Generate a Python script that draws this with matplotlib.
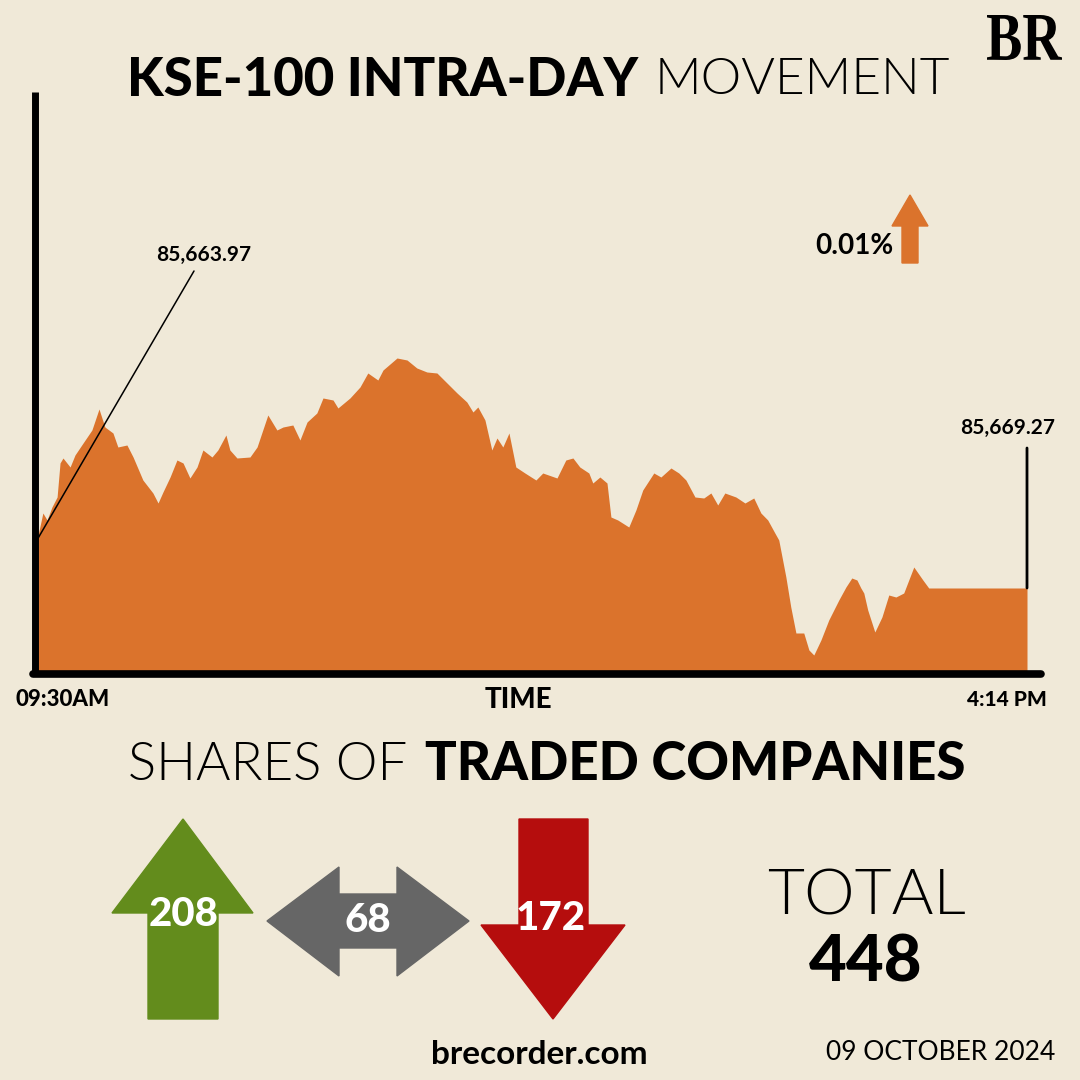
import matplotlib
matplotlib.use("Agg")
import matplotlib.pyplot as plt
from matplotlib.patches import Polygon, PathPatch
from matplotlib.lines import Line2D
from matplotlib.textpath import TextPath
from matplotlib.font_manager import FontProperties
from matplotlib.transforms import Affine2D

# ---------------- data ----------------
# minutes after 09:30 and height of the index trace above the chart floor (arbitrary units)
minutes = [0, 2.4, 4.1, 6.1, 8.2, 9.4, 10.6, 13.5, 15.5, 18.8, 22.4, 25.3, 27.7, 31.0, 33.0,
           36.7, 39.2, 43.2, 47.3, 49.4, 51.4, 54.3, 57.1, 59.6, 62.4, 65.3, 67.7, 71.4, 73.8,
           77.1, 78.7, 81.6, 86.9, 89.8, 94.2, 97.9, 100.4, 104.4, 107.3, 110.2, 114.2, 116.7,
           120.8, 122.8, 127.7, 131.8, 135.0, 139.1, 141.2, 146.9, 151.0, 155.0, 159.1, 163.2,
           167.3, 171.4, 175.4, 177.9, 179.9, 182.8, 185.6, 187.7, 190.1, 192.6, 195.4, 199.1,
           203.6, 206.4, 212.2, 215.8, 218.7, 221.5, 225.2, 226.8, 229.7, 232.6, 234.2, 237.0,
           241.5, 244.4, 247.2, 251.7, 254.6, 258.7, 261.9, 264.8, 268.5, 272.1, 275.0, 277.8,
           280.7, 285.2, 288.9, 292.5, 295.4, 298.2, 301.1, 302.7, 305.6, 307.6, 309.7, 312.9,
           315.0, 317.0, 319.9, 323.1, 327.2, 330.1, 332.5, 334.6, 336.2, 337.4, 339.0, 341.9,
           344.8, 347.6, 350.5, 353.7, 357.8, 361.5, 363.9, 404.0]
height = [132, 159, 152, 165, 175, 209, 214, 205, 217, 229, 242, 263, 245, 239, 225,
          227, 215, 192, 179, 169, 180, 195, 212, 209, 194, 205, 222, 215, 222,
          237, 222, 214, 215, 225, 257, 242, 245, 247, 232, 250, 259, 274,
          272, 264, 274, 285, 299, 292, 302, 314, 312, 304, 300, 299,
          289, 279, 270, 260, 265, 252, 222, 234, 225, 239, 205, 199,
          192, 199, 194, 212, 214, 205, 199, 189, 195, 189, 155, 152,
          145, 162, 182, 199, 195, 204, 199, 192, 175, 174, 179, 167,
          179, 175, 169, 174, 159, 152, 139, 132, 95, 65, 39, 39,
          22, 17, 32, 52, 72, 85, 94, 92, 84, 79, 62, 40,
          55, 77, 75, 79, 105, 92, 84, 84]

open_label = "85,663.97"
close_label = "85,669.27"
change_label = "0.01%"
time_labels = ["09:30AM", "4:14 PM"]
advanced, unchanged, declined = 208, 68, 172
total = advanced + unchanged + declined
date_label = "09 OCTOBER 2024"

# ---------------- style ----------------
BG = "#F0E9D8"
ORANGE = "#DB732C"
GREEN = "#638C1C"
GREY = "#666666"
RED = "#B50D0D"
SANS = "Lato"
THIN = 300

W = 1080
def fx(x): return x / W
def fy(y): return 1 - y / W

fig = plt.figure(figsize=(10.8, 10.8), dpi=100, facecolor=BG)

# chart axes: floor at y=672px, top at 92px, left at 37px, trace ends at 1027px
x0, x1, xend, ytop, yfloor = 37, 1043, 1027, 92, 672
span = minutes[-1] * (x1 - x0) / (xend - x0)
ax = fig.add_axes([fx(x0), fy(yfloor), fx(x1 - x0), (yfloor - ytop) / W])
ax.set_facecolor("none")
ax.fill_between(minutes, height, 0, color=ORANGE, lw=0)
ax.set_xlim(0, span)
ax.set_ylim(0, yfloor - ytop)
ax.axis("off")

# axis lines
fig.add_artist(Line2D([fx(35), fx(35)], [fy(92), fy(675)], color="black", lw=5,
                      solid_capstyle="butt", transform=fig.transFigure))
fig.add_artist(Line2D([fx(33), fx(1041)], [fy(674), fy(674)], color="black", lw=5.5,
                      solid_capstyle="round", transform=fig.transFigure))

# open / close callouts
ax.annotate("", xy=(minutes[0], height[0]), xytext=(fx(194), fy(271)),
            textcoords="figure fraction",
            arrowprops=dict(arrowstyle="-", lw=1.1, color="black", shrinkA=0, shrinkB=0))
fig.text(fx(204), fy(255), open_label, ha="center", va="center", fontsize=15,
         family=SANS, weight="bold")
ax.annotate("", xy=(minutes[-1], height[-1]), xytext=(minutes[-1], yfloor - 448),
            arrowprops=dict(arrowstyle="-", lw=2, color="black", shrinkA=0, shrinkB=0))
fig.text(fx(1008), fy(428), close_label, ha="center", va="center", fontsize=15,
         family=SANS, weight="bold")

# change indicator
fig.text(fx(893), fy(246), change_label, ha="right", va="center", fontsize=20,
         family=SANS, weight="bold")
fig.add_artist(Polygon([(fx(902), fy(263)), (fx(902), fy(226)), (fx(892), fy(226)),
                        (fx(910), fy(195)), (fx(928), fy(226)), (fx(918), fy(226)),
                        (fx(918), fy(263))], closed=True, color=ORANGE,
                       transform=fig.transFigure))

# titles
fig.text(fx(638), fy(80), "KSE-100 INTRA-DAY", ha="right", va="center", fontsize=38,
         family=SANS, weight="black")
fig.text(fx(655), fy(80), "MOVEMENT", ha="left", va="center", fontsize=37,
         family=SANS, weight=THIN)

# condensed serif logo, fitted into its box
logo = TextPath((0, 0), "BR", size=60, prop=FontProperties(family="Liberation Serif", weight="bold"))
ext = logo.get_extents()
lx0, lx1, ly0, ly1 = 987, 1062, 15, 60
tr = (Affine2D().translate(-ext.x0, -ext.y0)
      .scale((lx1 - lx0) / ext.width, (ly1 - ly0) / ext.height)
      .translate(lx0, W - ly1))
fig.add_artist(PathPatch(logo, transform=tr, color="black", lw=0))

fig.text(fx(15), fy(700), time_labels[0], ha="left", va="center", fontsize=16,
         family=SANS, weight="black")
fig.text(fx(518), fy(700), "TIME", ha="center", va="center", fontsize=20,
         family=SANS, weight="black")
fig.text(fx(1047), fy(700), time_labels[1], ha="right", va="center", fontsize=15,
         family=SANS, weight="black")

fig.text(fx(407), fy(765), "SHARES OF", ha="right", va="center", fontsize=38,
         family=SANS, weight=THIN)
fig.text(fx(425), fy(765), "TRADED COMPANIES", ha="left", va="center", fontsize=38,
         family=SANS, weight="black")

# market breadth arrows
def shape(pts, color):
    fig.add_artist(Polygon([(fx(x), fy(y)) for x, y in pts], closed=True, color=color,
                           transform=fig.transFigure))

shape([(148, 1019), (148, 913), (112, 913), (183, 819), (253, 913), (218, 913), (218, 1019)], GREEN)
shape([(267, 921), (339, 867), (339, 894), (397, 894), (397, 867), (469, 921),
       (397, 976), (397, 948), (339, 948), (339, 976)], GREY)
shape([(519, 819), (588, 819), (588, 925), (625, 925), (553, 1019), (481, 925), (519, 925)], RED)

fig.text(fx(184), fy(915), str(advanced), ha="center", va="center", fontsize=29,
         family=SANS, weight="black", color="white")
fig.text(fx(368), fy(921), str(unchanged), ha="center", va="center", fontsize=29,
         family=SANS, weight="black", color="white")
fig.text(fx(551), fy(918), str(declined), ha="center", va="center", fontsize=29,
         family=SANS, weight="black", color="white")

fig.text(fx(866), fy(897), "TOTAL", ha="center", va="center", fontsize=46,
         family=SANS, weight=THIN)
fig.text(fx(866), fy(963), str(total), ha="center", va="center", fontsize=47,
         family=SANS, weight="black")

fig.text(fx(539), fy(1055), "brecorder.com", ha="center", va="center", fontsize=24,
         family=SANS, weight="bold")
fig.text(fx(1055), fy(1053), date_label, ha="right", va="center", fontsize=19,
         family=SANS, weight="normal")

fig.savefig("out.png", dpi=100, facecolor=BG)
